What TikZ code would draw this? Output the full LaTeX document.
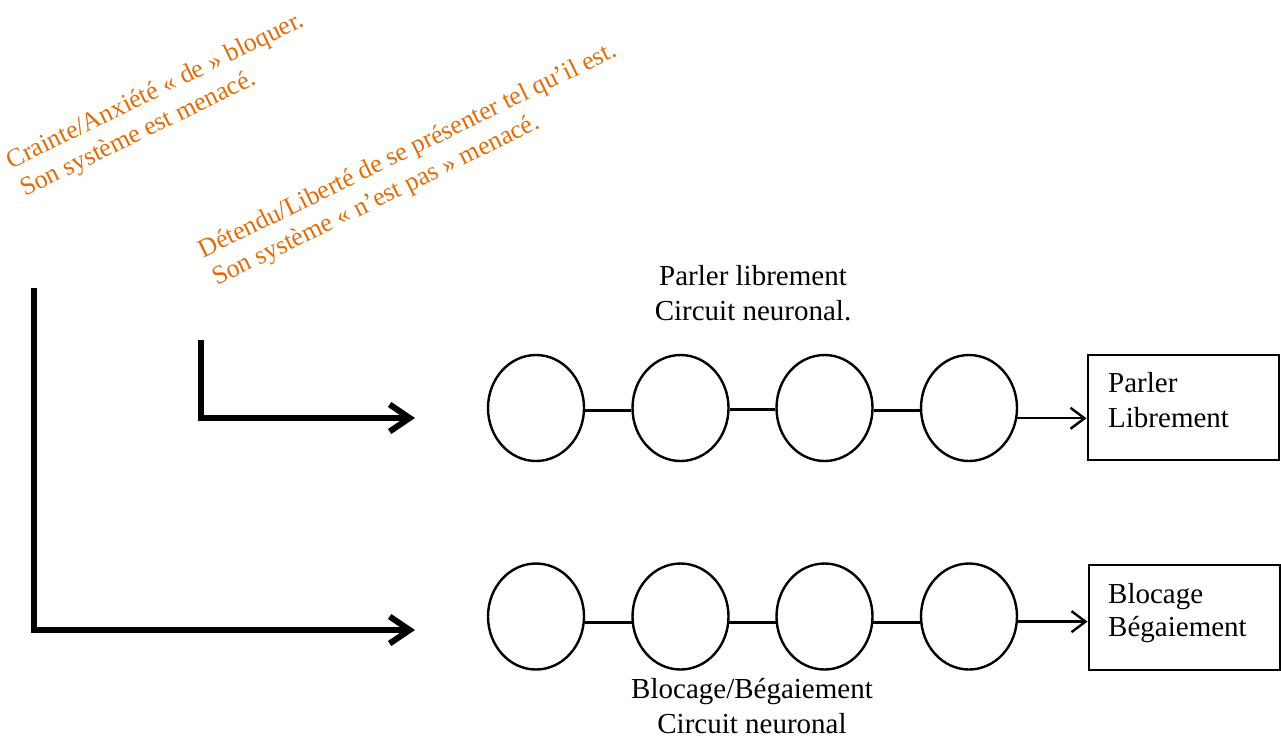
\documentclass[tikz,border=0pt]{standalone}
\usepackage{fontspec}
\setmainfont{Liberation Serif}
\usetikzlibrary{arrows.meta,shapes.geometric,calc}
\definecolor{wordorange}{RGB}{227,108,10}
\tikzset{
  neuron/.style={ellipse,draw,line width=2.4pt,minimum width=96pt,minimum height=106pt,inner sep=0pt},
  outbox/.style={rectangle,draw,line width=2pt,minimum width=191pt,minimum height=105pt,inner sep=0pt},
  bodytext/.style={font=\fontsize{29}{35}\selectfont,inner sep=0pt},
  slanttext/.style={font=\fontsize{26}{31}\selectfont,text=wordorange,inner sep=0pt,rotate=26,anchor=base west,align=left},
  link/.style={line width=2.6pt},
  thinarrow/.style={line width=2.4pt,-{Straight Barb[length=14pt,width=21pt,line width=2.4pt]}},
  bigarrow/.style={line width=6pt,-{Straight Barb[length=20pt,width=27pt,line width=6pt]}}
}
\begin{document}
\begin{tikzpicture}[x=1pt,y=-1pt]
\useasboundingbox (0,0) rectangle (1281,737);
% slanted orange texts
\node[slanttext] (t1) at (25,197) {Crainte/Anxiété « de » bloquer.\\Son système est menacé.};
\node[slanttext] (t2) at (217,286) {Détendu/Liberté de se présenter tel qu’il est.\\Son système « n’est pas » menacé.};
% top row
\node[neuron] (a1) at (536,408) {};
\node[neuron] (a2) at (680.5,408) {};
\node[neuron] (a3) at (824.5,408) {};
\node[neuron] (a4) at (969,408) {};
\node[outbox] (b1) at (1183,407.5) {};
\node[bodytext,anchor=base west] (b1t) at (1108,392) {Parler};
\node[bodytext,anchor=base west] (b1u) at (1108,427) {Librement};
\node[bodytext,anchor=base,align=center] (ta) at (753,320) {Parler librement\\Circuit neuronal.};
\draw[link] (a1.-3) -- (a2.-177);
\draw[link] (a2.-2) -- (a3.-178);
\draw[link] (a3.-3) -- (a4.-177);
\draw[thinarrow] (a4.-12) -- (a4.-12 -| b1.west);
% bottom row
\node[neuron] (c1) at (536,616.5) {};
\node[neuron] (c2) at (680.5,616.5) {};
\node[neuron] (c3) at (824.5,616.5) {};
\node[neuron] (c4) at (969,616.5) {};
\node[outbox] (b2) at (1184,617.5) {};
\node[bodytext,anchor=base west] (b2t) at (1108,603) {Blocage};
\node[bodytext,anchor=base west] (b2u) at (1108,636) {Bégaiement};
\node[bodytext,anchor=base,align=center] (tb) at (752,733) {Blocage/Bégaiement\\Circuit neuronal};
\draw[link] (c1.-7) -- (c2.-173);
\draw[link] (c2.-7) -- (c3.-173);
\draw[link] (c3.-7) -- (c4.-173);
\draw[thinarrow] (c4.-6) -- (c4.-6 -| b2.west);
% thick L arrows
\coordinate (s1) at (201,340);
\coordinate (e1) at (415,418);
\coordinate (s2) at (34,288);
\coordinate (e2) at (415,630);
\draw[bigarrow] (s1) |- (e1);
\draw[bigarrow] (s2) |- (e2);
\end{tikzpicture}
\end{document}
